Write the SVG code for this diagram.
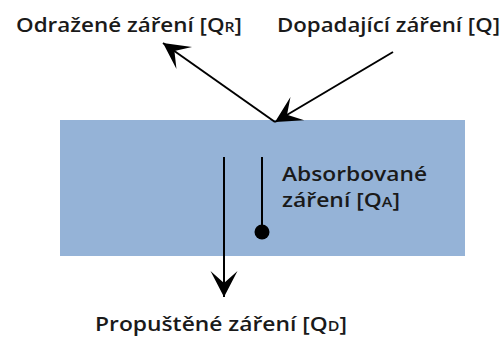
<svg xmlns="http://www.w3.org/2000/svg" width="503" height="339" viewBox="0 0 503 339">
  <style>
    .lbl { font-family: "Open Sans", "Liberation Sans", sans-serif; font-weight: 600; font-size: 20px; fill: #1a1a1a; }
    .sub { font-size: 14px; }
    .ray { stroke: #000; stroke-width: 2; fill: none; }
  </style>
  <defs>
    <marker id="head" viewBox="-27 -15 30 30" markerWidth="30" markerHeight="30" refX="0" refY="0" orient="auto" markerUnits="userSpaceOnUse">
      <path d="M0,0 L-26,-13.5 L-14,0 L-26,13.5 Z" fill="#000"/>
    </marker>
  </defs>

  <!-- absorbing layer -->
  <g id="layer">
    <rect x="60" y="120" width="405" height="136" fill="#95b3d7"/>
  </g>

  <!-- rays -->
  <g id="connectors">
    <line class="ray" x1="393" y1="52" x2="275" y2="122" marker-end="url(#head)"/>
    <line class="ray" x1="275" y1="122" x2="163" y2="43" marker-end="url(#head)"/>
    <line class="ray" x1="224" y1="157" x2="224" y2="297" marker-end="url(#head)"/>
    <line class="ray" x1="262" y1="157" x2="262" y2="232"/>
    <circle cx="262" cy="232" r="7.5" fill="#000"/>
  </g>

  <g id="reflected">
    <text class="lbl" x="16" y="32" textLength="226" lengthAdjust="spacingAndGlyphs">Odražené záření [Q<tspan class="sub">R</tspan>]</text>
  </g>
  <g id="incident">
    <text class="lbl" x="277" y="32" textLength="223" lengthAdjust="spacingAndGlyphs">Dopadající záření [Q]</text>
  </g>
  <g id="absorbed">
    <text class="lbl" x="282" y="181" textLength="145" lengthAdjust="spacingAndGlyphs">Absorbované</text>
    <text class="lbl" x="282" y="207" textLength="118" lengthAdjust="spacingAndGlyphs">záření [Q<tspan class="sub">A</tspan>]</text>
  </g>
  <g id="transmitted">
    <text class="lbl" x="95" y="331" textLength="252" lengthAdjust="spacingAndGlyphs">Propuštěné záření [Q<tspan class="sub">D</tspan>]</text>
  </g>
</svg>
